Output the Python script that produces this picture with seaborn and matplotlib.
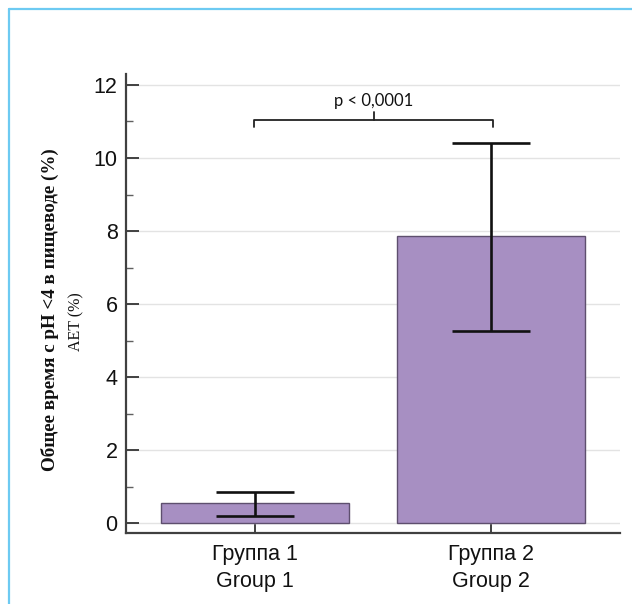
import matplotlib
matplotlib.use("Agg")
import matplotlib.pyplot as plt
from matplotlib.lines import Line2D
from matplotlib.ticker import MultipleLocator
import seaborn as sns
import pandas as pd

# Summary values: mean AET (%) with lower/upper error extents
groups = ["Группа 1\nGroup 1", "Группа 2\nGroup 2"]
means = [0.54, 7.85]
err_low = [0.33, 2.58]
err_high = [0.31, 2.56]
p_label = "p < 0,0001"
y_label_main = "Общее время с рН <4 в пищеводе (%)"
y_label_sub = "AET (%)"

sns.set_theme(style="white")
plt.rcParams["font.family"] = ["Liberation Sans", "DejaVu Sans"]

df = pd.DataFrame({"group": groups, "aet": means})

fig = plt.figure(figsize=(6.32, 6.04), dpi=100)
ax = fig.add_axes([0.1994, 0.1175, 0.7816, 0.76])

ax.grid(True, which="major", axis="both", color="#e3e3e3", linewidth=1.0, zorder=0)
ax.set_axisbelow(True)

sns.barplot(data=df, x="group", y="aet", color="#a78fc2", saturation=1,
            width=0.8, edgecolor="#5e4f6e", linewidth=1.0, errorbar=None, ax=ax,
            zorder=2)

ax.errorbar([0, 1], means, yerr=[err_low, err_high], fmt="none",
            ecolor="#111111", elinewidth=1.9, capsize=28, capthick=1.9, zorder=3)

ax.set_xlim(-0.547, 1.547)
ax.set_ylim(-0.27, 12.3)
ax.yaxis.set_major_locator(MultipleLocator(2))
ax.yaxis.set_minor_locator(MultipleLocator(1))

for s in ["top", "right"]:
    ax.spines[s].set_visible(False)
for s in ["left", "bottom"]:
    ax.spines[s].set_color("#404040")
    ax.spines[s].set_linewidth(1.6)

ax.tick_params(axis="y", which="major", direction="in", length=9, width=1.4,
               color="#404040", labelsize=15.5, pad=6, left=True)
ax.tick_params(axis="y", which="minor", direction="in", length=5, width=1.0,
               color="#606060", left=True)
ax.tick_params(axis="x", which="major", direction="in", length=9, width=1.4,
               color="#404040", labelsize=15.5, pad=8, bottom=True)
for lab in ax.get_xticklabels():
    lab.set_linespacing(1.38)
for lab in ax.get_xticklabels() + ax.get_yticklabels():
    lab.set_color("#111111")

ax.set_xlabel("")
ax.set_ylabel("")

# Significance bracket between the groups
by, h, tip = 11.05, 0.2, 0.2
ax.plot([-0.005, -0.005, 1.01, 1.01], [by - h, by, by, by - h],
        color="#222222", linewidth=1.3, zorder=4, clip_on=False)
ax.plot([0.5025, 0.5025], [by, by + tip], color="#222222", linewidth=1.3,
        zorder=4, clip_on=False)
ax.text(0.5025, by + 0.3, p_label, ha="center", va="bottom", fontsize=12,
        family=["Lato", "DejaVu Sans"], color="#111111")

# Two-line y-axis title
fig.text(0.079, 0.487, y_label_main, rotation=90, ha="center", va="center",
         fontsize=13.7, fontweight="bold", family=["Liberation Serif", "DejaVu Serif"],
         color="#111111")
fig.text(0.121, 0.468, y_label_sub, rotation=90, ha="center", va="center",
         fontsize=11.5, family=["Liberation Serif", "DejaVu Serif"], color="#111111")

# Light blue frame along the top and left edges
fig.add_artist(Line2D([9 / 632, 9 / 632], [0, 1 - 9 / 604], transform=fig.transFigure,
                      color="#6dcaf2", linewidth=1.6))
fig.add_artist(Line2D([9 / 632, 1], [1 - 9 / 604, 1 - 9 / 604], transform=fig.transFigure,
                      color="#6dcaf2", linewidth=1.6))

fig.savefig("out.png", dpi=100, facecolor="white")
